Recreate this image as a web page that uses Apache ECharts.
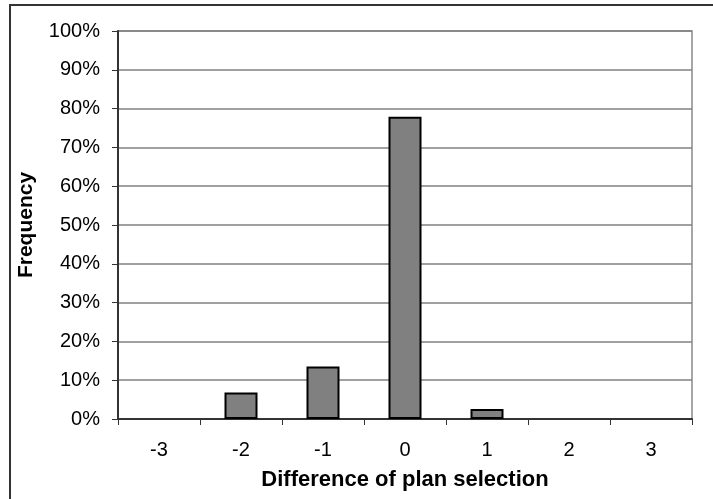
<!DOCTYPE html>
<html>
<head>
<meta charset="utf-8">
<script src="https://cdn.jsdelivr.net/npm/echarts@6/dist/echarts.min.js"></script>
<style>
  html, body { margin: 0; padding: 0; background: #fff; }
  #chart { width: 713px; height: 499px; }
</style>
</head>
<body>
<div id="chart"></div>
<script>
// Difference in plan selection and how often each occurred
const categories = ['-3', '-2', '-1', '0', '1', '2', '3'];
const frequency = [0, 0.068, 0.135, 0.779, 0.026, 0, 0];

const chart = echarts.init(document.getElementById('chart'), null, { renderer: 'canvas' });

const font = 'Liberation Sans, Arial, sans-serif';

// empty classes get no outline so nothing shows on the baseline
const barData = frequency.map(v => v > 0 ? v : { value: v, itemStyle: { borderWidth: 0, opacity: 0 } });

chart.setOption({
  animation: false,
  backgroundColor: '#fff',
  graphic: [{
    type: 'rect',
    shape: { x: 10, y: 5, width: 720, height: 520 },
    style: { fill: 'none', stroke: '#333', lineWidth: 2 },
    silent: true
  }],
  grid: {
    left: 118, top: 31, right: 21, bottom: 80,
    show: true, borderColor: '#8a8a8a', borderWidth: 1.5, backgroundColor: 'transparent'
  },
  xAxis: {
    type: 'category',
    data: categories,
    boundaryGap: true,
    name: 'Difference of plan selection',
    nameLocation: 'middle',
    nameGap: 50,
    nameTextStyle: { fontFamily: font, fontSize: 22, fontWeight: 'bold', color: '#000' },
    axisLine: { lineStyle: { color: '#333', width: 2 } },
    axisTick: { show: true, length: 6, inside: false, alignWithLabel: false, lineStyle: { color: '#333', width: 1 } },
    axisLabel: { fontFamily: font, fontSize: 20, color: '#000', margin: 21 },
    splitLine: { show: false }
  },
  yAxis: {
    type: 'value',
    min: 0, max: 1, interval: 0.1,
    name: 'Frequency',
    nameLocation: 'middle',
    nameGap: 81,
    nameTextStyle: { fontFamily: font, fontSize: 21, fontWeight: 'bold', color: '#000' },
    axisLine: { show: true, lineStyle: { color: '#333', width: 2 } },
    axisTick: { show: true, length: 6, lineStyle: { color: '#333', width: 1 } },
    axisLabel: {
      fontFamily: font, fontSize: 20, color: '#000', margin: 18,
      formatter: v => Math.round(v * 100) + '%'
    },
    splitLine: { show: true, lineStyle: { color: '#808080', width: 1.5 } }
  },
  series: [{
    type: 'bar',
    data: barData,
    barWidth: 33,
    itemStyle: { color: '#808080', borderColor: '#000', borderWidth: 2 }
  }]
});
</script>
</body>
</html>
